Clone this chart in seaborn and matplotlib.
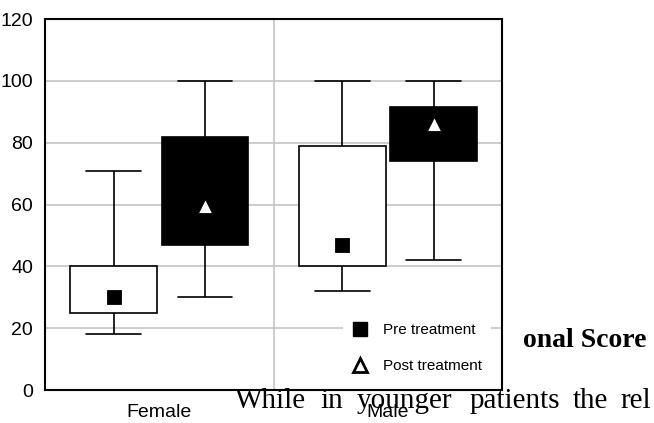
import numpy as np
import pandas as pd
import matplotlib
matplotlib.use("Agg")
import matplotlib.pyplot as plt
from matplotlib.lines import Line2D
import seaborn as sns

# values
groups = ["Female", "Male"]
times = ["Pre", "Post"]

pre_low = [18, 32]
pre_q1 = [25, 40]
pre_mark = [30, 47]
pre_q3 = [40, 79]
pre_high = [71, 100]

post_low = [30, 42]
post_q1 = [47, 74]
post_mark = [59.5, 86]
post_q3 = [82, 91.5]
post_high = [100, 100]

yticks = [0, 20, 40, 60, 80, 100, 120]

# long table: five points per box -> min, q1, marker, q3, max
rows = []
for i, g in enumerate(groups):
    for v in [pre_low[i], pre_q1[i], pre_mark[i], pre_q3[i], pre_high[i]]:
        rows.append({"Sex": g, "Time": "Pre", "Score": v})
    for v in [post_low[i], post_q1[i], post_mark[i], post_q3[i], post_high[i]]:
        rows.append({"Sex": g, "Time": "Post", "Score": v})
df = pd.DataFrame(rows)

sns.set_style("white")
sans = ["Liberation Sans", "DejaVu Sans"]
plt.rcParams["font.family"] = sans
plt.rcParams["text.color"] = "black"
plt.rcParams["xtick.color"] = "black"
plt.rcParams["ytick.color"] = "black"

fig = plt.figure(figsize=(6.54, 4.23), dpi=100)
ax = fig.add_axes([0.0688, 0.078, 0.699, 0.877])

sns.boxplot(data=df, x="Sex", y="Score", hue="Time", order=groups, hue_order=times,
            palette={"Pre": "white", "Post": "black"}, saturation=1,
            linecolor="black", linewidth=1.2, width=0.8, gap=0.05,
            whis=(0, 100), showfliers=False, capwidths=0.24,
            medianprops={"visible": False}, legend=False, ax=ax)

n_before = len(ax.lines)
sns.pointplot(data=df, x="Sex", y="Score", hue="Time", order=groups, hue_order=times,
              estimator="median", errorbar=None, dodge=0.4,
              markers=["s", "^"], linestyles="none",
              palette={"Pre": "black", "Post": "white"},
              legend=False, ax=ax)
for ln in ax.lines[n_before:]:
    ln.set_markeredgecolor("black")
    ln.set_markeredgewidth(0.6)
    ln.set_markersize(9.5)
    ln.set_zorder(5)

ax.set_ylim(0, 120)
ax.set_xlim(-0.5, 1.5)
ax.set_yticks(yticks)
ax.set_xlabel("")
ax.set_ylabel("")
ax.tick_params(axis="both", length=0, labelsize=14)
ax.tick_params(axis="y", pad=8.5)
ax.tick_params(axis="x", pad=10)

ax.set_xticks([0.5], minor=True)
ax.tick_params(axis="x", which="minor", length=0)
ax.grid(axis="y", color="#c0c0c0", linewidth=1.1)
ax.grid(axis="x", which="minor", color="#c0c0c0", linewidth=1.1)
ax.set_axisbelow(True)
for s in ax.spines.values():
    s.set_visible(True)
    s.set_color("black")
    s.set_linewidth(1.5)

handles = [
    Line2D([], [], marker="s", linestyle="none", markersize=10,
           markerfacecolor="black", markeredgecolor="black"),
    Line2D([], [], marker="^", linestyle="none", markersize=10,
           markerfacecolor="white", markeredgecolor="black", markeredgewidth=2),
]
leg = ax.legend(handles, ["Pre treatment", "Post treatment"], loc="lower left",
                bbox_to_anchor=(0.6355, 0.0), frameon=True, fancybox=False,
                framealpha=1, edgecolor="none", facecolor="white",
                prop={"family": sans, "size": 11}, handlelength=1.0,
                handletextpad=1.0, labelspacing=1.46, borderpad=0.6)

# overlapping page text from the source document
fig.text(523 / 654, 1 - 347 / 423, "onal Score", family="Liberation Serif",
         weight="bold", fontsize=20, ha="left", va="baseline")
words = ["While", "in", "younger", "patients", "the", "rel"]
word_x = [235, 320, 357, 470, 573, 620]
for w, x in zip(words, word_x):
    fig.text(x / 654, 1 - 408 / 423, w, family="Liberation Serif",
             fontsize=21, ha="left", va="baseline")

fig.savefig("out.png", dpi=100)
